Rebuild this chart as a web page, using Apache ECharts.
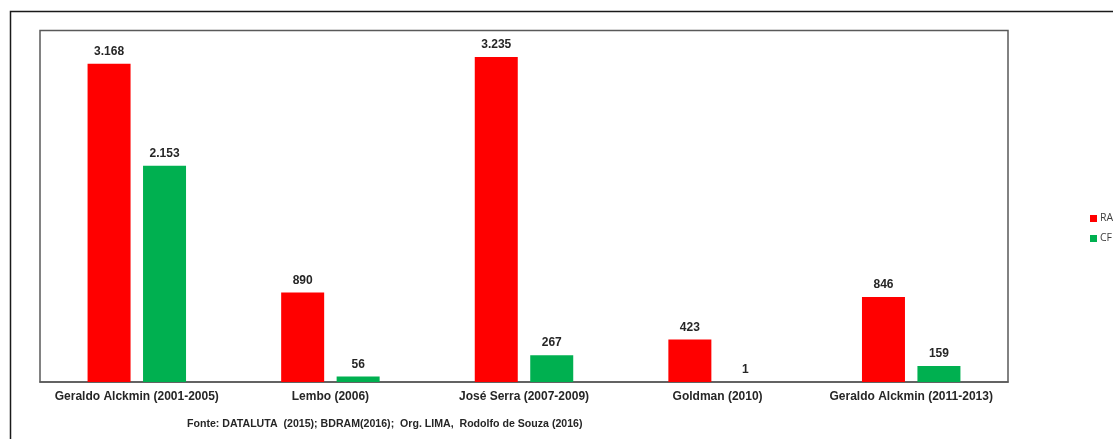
<!DOCTYPE html>
<html>
<head>
<meta charset="utf-8">
<script src="https://cdn.jsdelivr.net/npm/echarts@6/dist/echarts.min.js"></script>
<style>html,body{margin:0;padding:0;background:#fff;}#c{width:1113px;height:439px;}</style>
</head>
<body>
<div id="c"></div>
<script>
const categories = ['Geraldo Alckmin (2001-2005)', 'Lembo (2006)', 'José Serra (2007-2009)', 'Goldman (2010)', 'Geraldo Alckmin (2011-2013)'];
const seriesNames = ['RA', 'CF'];
const raValues = [3168, 890, 3235, 423, 846];
const cfValues = [2153, 56, 267, 1, 159];
const sourceText = 'Fonte: DATALUTA  (2015); BDRAM(2016);  Org. LIMA,  Rodolfo de Souza (2016)';

function fmt(v) {
  return String(v).replace(/\B(?=(\d{3})+(?!\d))/g, '.');
}

const chart = echarts.init(document.getElementById('c'), null, {renderer: 'canvas'});
const labelStyle = {
  show: true, position: 'top', distance: 6,
  fontFamily: 'Liberation Sans, Arial, sans-serif', fontWeight: 'bold', fontSize: 12, color: '#262626',
  formatter: p => fmt(p.value)
};
chart.setOption({
  animation: false,
  backgroundColor: '#fff',
  grid: {left: 40, right: 105, top: 30.5, bottom: 57, show: true, borderColor: '#595959', borderWidth: 1.5, containLabel: false},
  legend: {
    orient: 'vertical', left: 1085, top: 208, itemWidth: 7, itemHeight: 7, itemGap: 9,
    icon: 'rect',
    textStyle: {fontFamily: 'Open Sans, sans-serif', fontSize: 10.5, color: '#404040', padding: [0,0,0,-2]},
    data: seriesNames
  },
  xAxis: {
    type: 'category', data: categories,
    axisLine: {show: true, lineStyle: {color: '#595959', width: 1.5}},
    axisTick: {show: false},
    axisLabel: {fontFamily: 'Liberation Sans, Arial, sans-serif', fontWeight: 'bold', fontSize: 12, color: '#262626', margin: 9, interval: 0}
  },
  yAxis: {
    type: 'value', min: 0, max: 3500, interval: 500,
    axisLine: {show: false}, axisTick: {show: false}, axisLabel: {show: false}, splitLine: {show: false}
  },
  series: [
    {name: seriesNames[0], type: 'bar', data: raValues, barWidth: 43, barGap: '29%', itemStyle: {color: '#FF0000'}, label: labelStyle},
    {name: seriesNames[1], type: 'bar', data: cfValues, barWidth: 43, barGap: '29%', itemStyle: {color: '#00B050'}, label: labelStyle}
  ],
  graphic: [
    {type: 'rect', shape: {x: 10.5, y: 11.5, width: 1200, height: 500}, style: {fill: 'none', stroke: '#1a1a1a', lineWidth: 1.5}, silent: true},
    {type: 'text', left: 187, top: 419, style: {text: sourceText, fontFamily: 'Liberation Sans, Arial, sans-serif', fontWeight: 'bold', fontSize: 10.6, fill: '#262626'}}
  ]
});
</script>
</body>
</html>
